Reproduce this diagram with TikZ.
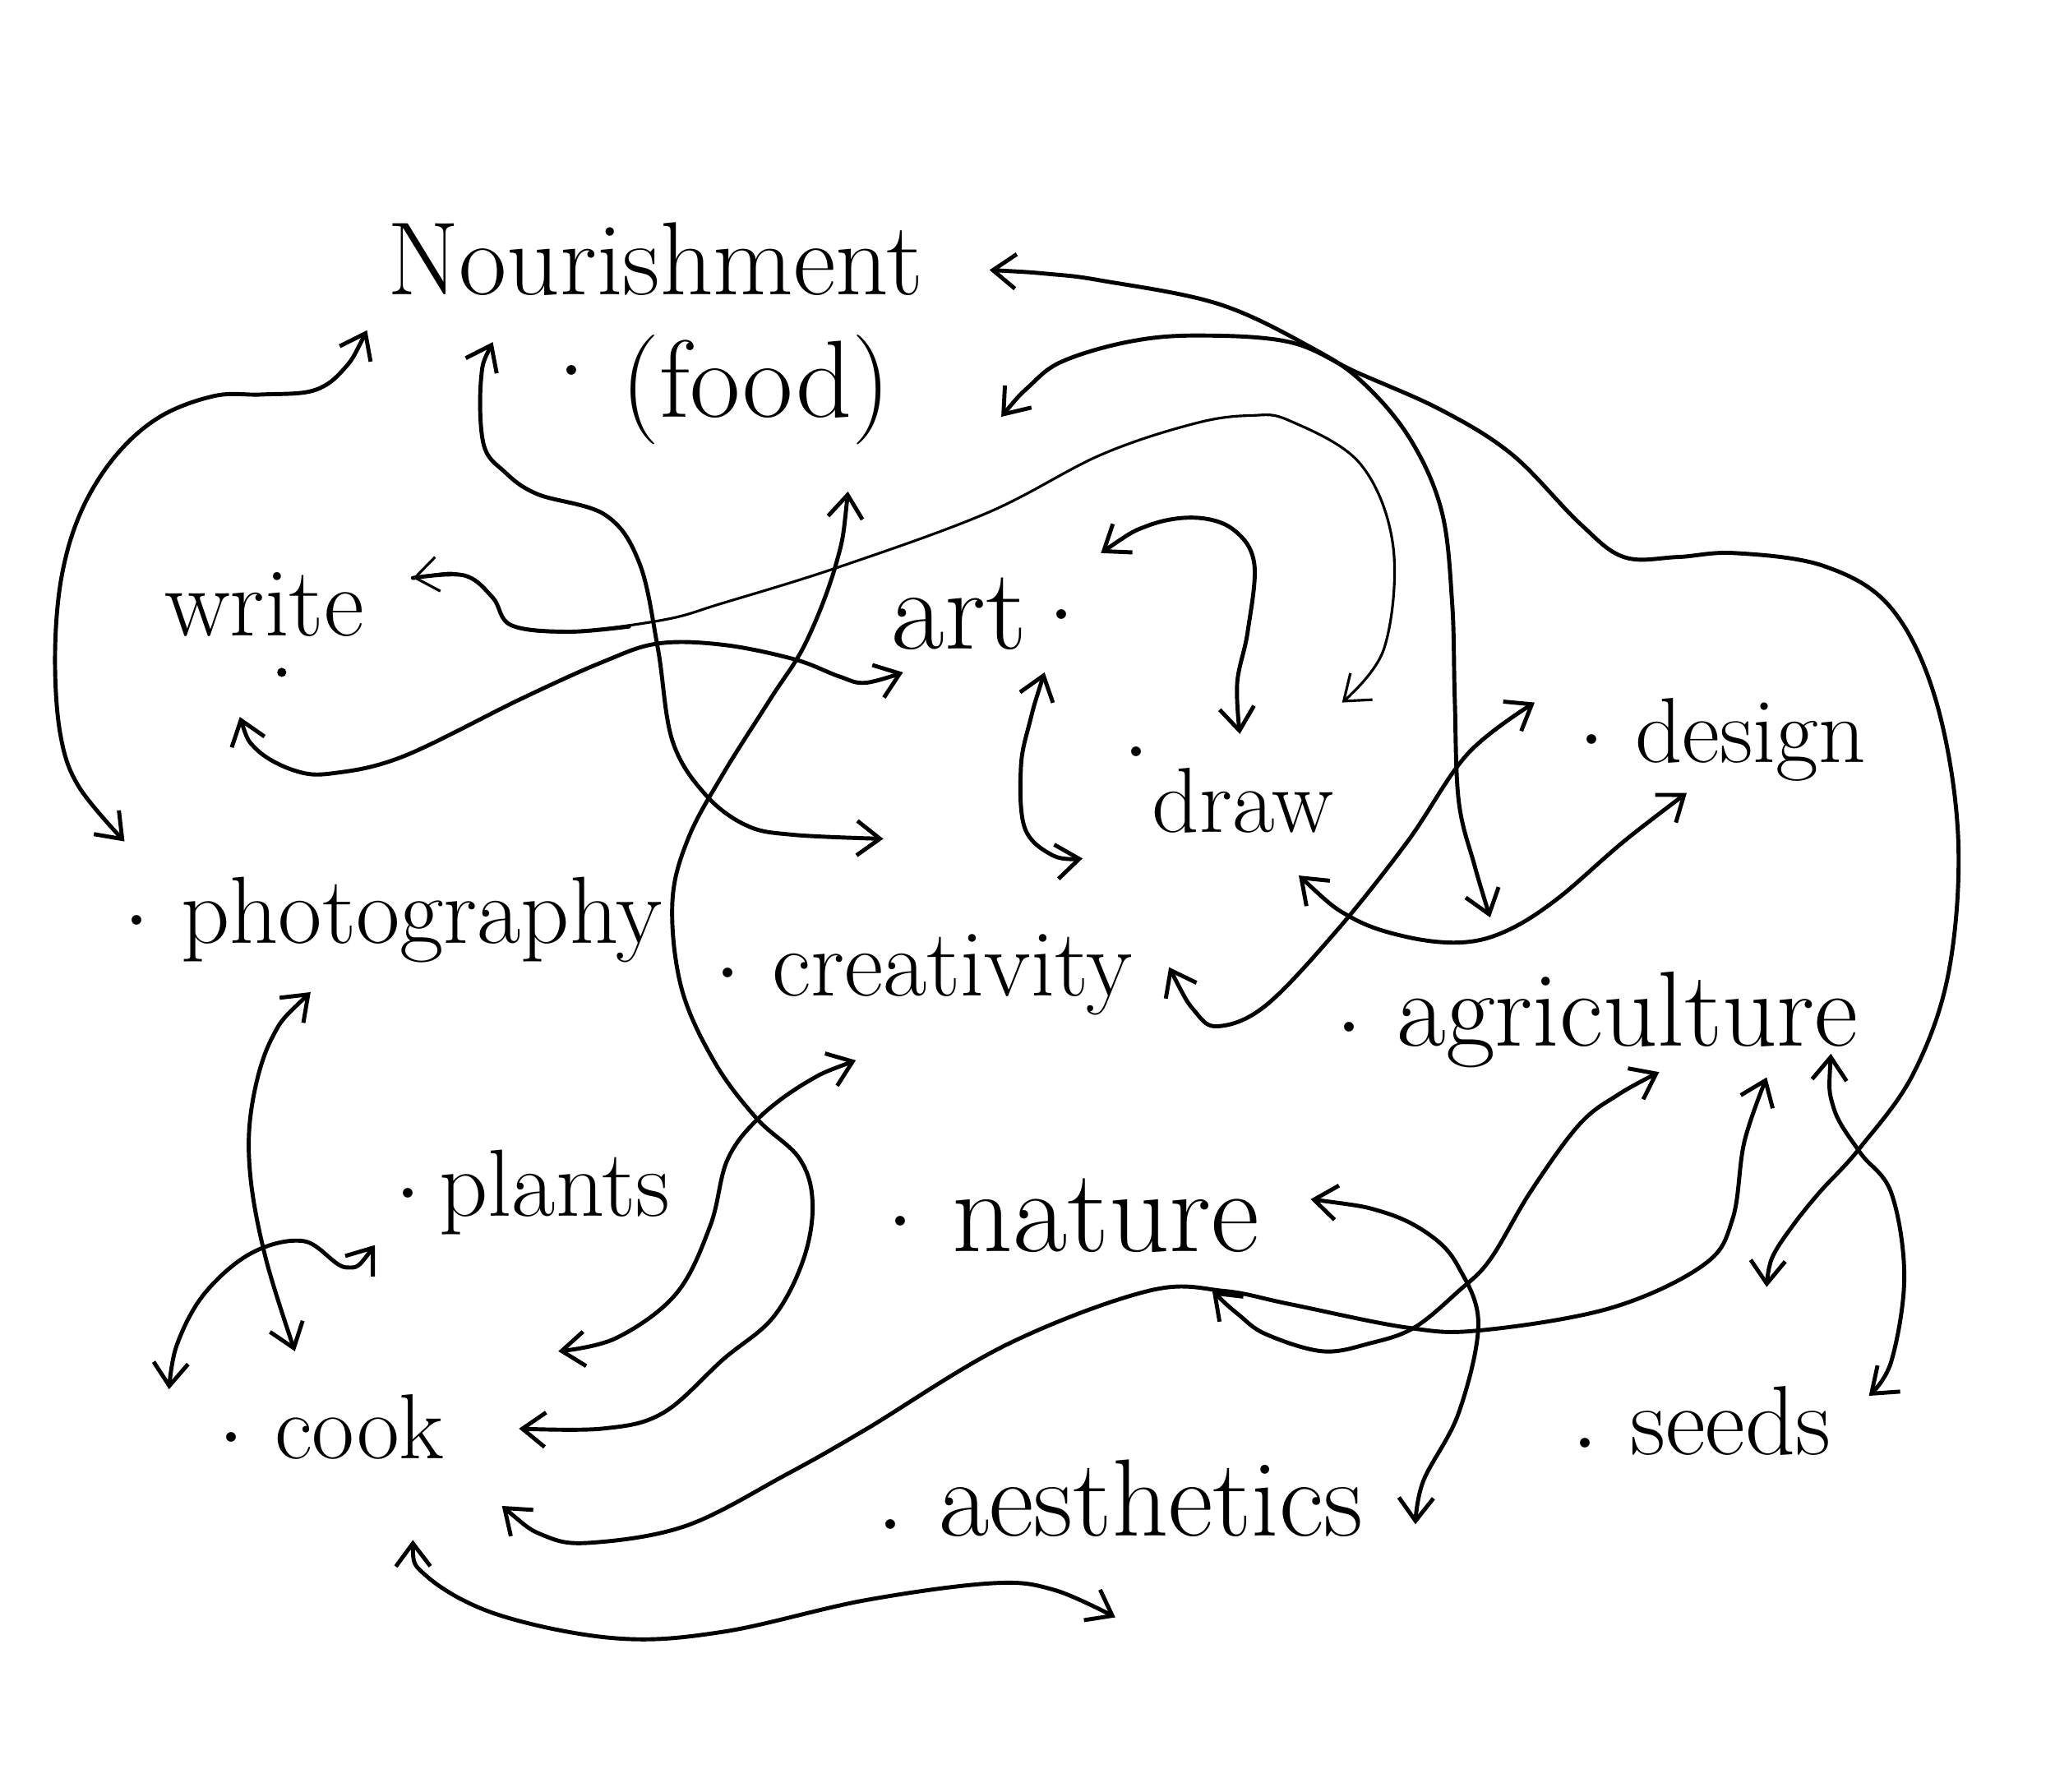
\documentclass[tikz,border=0pt]{standalone}
\usetikzlibrary{arrows.meta}
% dot in front of a word
\newcommand{\dt}[1][4pt]{\raisebox{#1}{\fontsize{15}{15}\selectfont\textbullet}}
\begin{document}
\begin{tikzpicture}[x=0.015944cm, y=-0.015944cm,
  lbl/.style={anchor=base west, inner sep=0pt, font=\fontsize{#1}{#1}\selectfont},
  lbl/.default=33,
  link/.style={line width=1.4pt, line cap=round, line join=round, <->, >={Straight Barb[length=2.8mm,width=4.2mm]}},
  thin link/.style={link, line width=0.9pt}]
% Page
\useasboundingbox (0,0) rectangle (1568,1367);
% Words
\node[lbl=36] (nour) at (295,225) {Nourishment};
\node[lbl=38] (food) at (424,318) {\dt[12pt]\ (food)};
\node[lbl=34] (write) at (125,485) {write};
\coordinate (wdot) at (215,513);
\fill (wdot) circle (3.5);
\node[lbl=40] (art) at (680,495) {art\,\dt[8pt]};
\node[lbl=32] (draw) at (855,635) {\dt[24pt]draw};
\node[lbl=32] (design) at (1202,582) {\dt\ design};
\node[lbl] (photo) at (92,720) {\dt\ photography};
\node[lbl] (crea) at (543,760) {\dt\ creativity};
\node[lbl=37] (agri) at (1017,798) {\dt[2.5pt]\ agriculture};
\node[lbl] (plants) at (299,928) {\dt\,plants};
\node[lbl=41] (nature) at (675,955) {\dt[6.5pt]\ nature};
\node[lbl=32] (cook) at (164,1113) {\dt[3.5pt]\ cook};
\node[lbl=34] (seeds) at (1197,1110) {\dt[0pt]\ seeds};
\node[lbl=38] (aesth) at (667,1172) {\dt[0pt]\ aesthetics};
% Arrow ends
\coordinate (nour-a) at (280,252);
\coordinate (nour-b) at (376,261);
\coordinate (nour-c) at (755,206);
\coordinate (food-a) at (764,318);
\coordinate (food-b) at (647,375);
\coordinate (write-a) at (315,441);
\coordinate (wdot-a) at (183,547);
\coordinate (art-a) at (689,513);
\coordinate (art-b) at (840,422);
\coordinate (art-c) at (797,513);
\coordinate (draw-a) at (1024,536);
\coordinate (draw-b) at (946,560);
\coordinate (draw-c) at (826,655);
\coordinate (draw-d) at (991,668);
\coordinate (design-a) at (1287,605);
\coordinate (design-b) at (1171,536);
\coordinate (photo-a) at (95,642);
\coordinate (photo-b) at (237,757);
\coordinate (crea-a) at (674,640);
\coordinate (crea-b) at (653,809);
\coordinate (crea-c) at (892,738);
\coordinate (agri-a) at (1137,700);
\coordinate (agri-b) at (1348,822);
\coordinate (agri-c) at (1266,818);
\coordinate (agri-d) at (1397,804);
\coordinate (plants-a) at (286,950);
\coordinate (plants-b) at (129,1060);
\coordinate (nature-a) at (925,985);
\coordinate (nature-b) at (1000,915);
\coordinate (cook-a) at (396,1090);
\coordinate (cook-b) at (426,1031);
\coordinate (cook-c) at (225,1031);
\coordinate (cook-d) at (315,1175);
\coordinate (cook-e) at (383,1149);
\coordinate (seeds-a) at (1348,982);
\coordinate (seeds-b) at (1426,1065);
\coordinate (aesth-a) at (851,1234);
\coordinate (aesth-b) at (1080,1163);
% Links, top left
\draw[link] plot[smooth, tension=.6] coordinates {(nour-a) (262,282) (239,298) (200,301) (164,302) (122,318) (88,348) (62,390) (47,440) (42,500) (46,560) (60,600) (photo-a)};
\draw[link] plot[smooth, tension=.6] coordinates {(nour-b) (367,290) (369,339) (385,360) (410,377) (462,393) (488,430) (502,495) (513,565) (538,606) (570,630) (606,637) (crea-a)};
\draw[link, -] plot[smooth, tension=.6] coordinates {(write-a) (354,439) (376,456) (390,477) (433,482) (480,478)};
\draw[thin link] plot[smooth, tension=.6] coordinates {(write-a) (354,439) (376,456) (390,477) (433,482) (506,473) (552,460) (642,432) (754,391) (840,347) (912,323) (955,317) (984,321) (1038,354) (1063,417) (1056,495) (draw-a)};
\draw[link] plot[smooth, tension=.6] coordinates {(wdot-a) (196,572) (225,588) (254,590) (308,577) (398,533) (460,505) (502,491) (552,492) (606,503) (640,516) (660,521) (art-a)};
% Links, top right
\draw[link] plot[smooth, tension=.6] coordinates {(nour-c) (800,209) (840,214) (930,232) (1002,266) (1040,292) (1076,335) (1100,390) (1108,460) (1110,533) (1113,611) (1125,660) (agri-a)};
\draw[link] plot[smooth, tension=.6] coordinates {(food-a) (785,295) (810,276) (860,261) (912,256) (984,261) (1035,284) (1100,313) (1154,347) (1205,399) (1239,425) (1280,425) (1324,422) (1392,432) (1443,464) (1477,534) (1494,637) (1487,741) (1460,819) (1419,876) (1389,909) (1368,935) (1352,960) (seeds-a)};
\draw[link] plot[smooth, tension=.6] coordinates {(art-b) (876,401) (912,395) (941,404) (957,430) (952,482) (944,521) (draw-b)};
\draw[link] plot[smooth, tension=.6] coordinates {(art-c) (786,550) (779,585) (782,632) (804,653) (draw-c)};
\draw[link] plot[smooth, tension=.6] coordinates {(draw-d) (1031,700) (1074,715) (1116,719) (1150,710) (1188,686) (1239,642) (design-a)};
\draw[link] plot[smooth, tension=.6] coordinates {(crea-c) (912,772) (930,783) (966,767) (1020,710) (1074,642) (1120,575) (design-b)};
% Links, bottom
\draw[link] plot[smooth, tension=.6] coordinates {(food-b) (638,430) (615,490) (588,533) (552,590) (525,640) (513,689) (520,754) (545,810) (577,853) (610,884) (620,918) (613,961) (590,1005) (552,1037) (506,1078) (460,1090) (cook-a)};
\draw[link] plot[smooth, tension=.6] coordinates {(crea-b) (615,826) (579,853) (555,885) (542,935) (516,987) (470,1021) (cook-b)};
\draw[link] plot[smooth, tension=.6] coordinates {(photo-b) (207,793) (192,845) (191,897) (203,961) (cook-c)};
\draw[link] plot[smooth, tension=.6] coordinates {(plants-a) (264,967) (232,947) (192,956) (156,987) (135,1026) (plants-b)};
\draw[link] plot[smooth, tension=.6] coordinates {(cook-d) (326,1203) (380,1232) (470,1250) (552,1245) (660,1221) (757,1208) (804,1213) (aesth-a)};
\draw[link] plot[smooth, tension=.6] coordinates {(cook-e) (416,1172) (452,1177) (524,1164) (600,1125) (660,1091) (768,1026) (876,985) (934,985) (984,995) (1074,1013) (1130,1015) (1229,998) (1300,965) (1322,930) (1331,871) (agri-b)};
\draw[link] plot[smooth, tension=.6] coordinates {(nature-a) (945,1003) (966,1018) (1009,1031) (1045,1025) (1079,1013) (1113,985) (1137,961) (1168,909) (1205,858) (1235,835) (agri-c)};
\draw[link] plot[smooth, tension=.6] coordinates {(nature-b) (1056,925) (1092,943) (1113,967) (1128,1010) (1113,1078) (1086,1130) (aesth-b)};
\draw[link] plot[smooth, tension=.6] coordinates {(agri-d) (1399,845) (1419,879) (1443,910) (1453,974) (1443,1039) (seeds-b)};
\end{tikzpicture}
\end{document}
